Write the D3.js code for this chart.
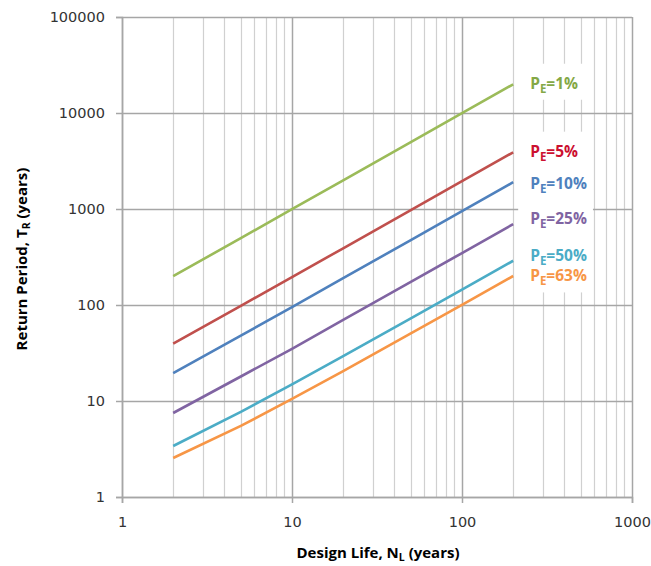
<!DOCTYPE html>
<html>
<head>
<meta charset="utf-8">
<script src="https://cdn.jsdelivr.net/npm/d3@7"></script>
<style>
  body { margin: 0; background: #fff; }
  svg { display: block; }
</style>
</head>
<body>
<div id="chart"></div>
<script>
// design life N (years) where each curve was read
var designLife = [2, 5, 10, 20, 50, 100, 200];

// return period T (years) for each exceedance probability
var pe1  = [199.5, 498, 995, 1990, 4975, 9950, 19900];
var pe5  = [39.5, 98, 195, 390, 975, 1950, 3900];
var pe10 = [19.5, 48, 95, 190, 475, 950, 1900];
var pe25 = [7.5, 18, 35, 70, 174, 348, 696];
var pe50 = [3.4, 7.7, 14.9, 29.4, 72.6, 145, 289];
var pe63 = [2.55, 5.5, 10.5, 20.5, 50.5, 100.5, 200.5];

var seriesNames = ["1%", "5%", "10%", "25%", "50%", "63%"];
var xTicks = [1, 10, 100, 1000];
var yTicks = [1, 10, 100, 1000, 10000, 100000];

function ReturnPeriodChart() {
  var w = 651, h = 566;
  var margin = {top: 17, right: 19, bottom: 69, left: 122};
  var iw = w - margin.left - margin.right;
  var ih = h - margin.top - margin.bottom;

  var lineColors  = ["#9bbb59", "#c0504d", "#4f81bd", "#8064a2", "#4bacc6", "#f79646"];
  var labelColors = ["#84a846", "#cc1030", "#4f81bd", "#8064a2", "#4bacc6", "#f79646"];
  var labelNudge  = [-1, -1, 1, -6, -5, 0];

  var allSeries = [pe1, pe5, pe10, pe25, pe50, pe63];
  var dataset = allSeries.map((vals, i) => ({
    name: seriesNames[i],
    color: lineColors[i],
    labelColor: labelColors[i],
    nudge: labelNudge[i],
    points: vals.map((v, j) => ({n: designLife[j], t: v}))
  }));

  var svg = d3.select("#chart")
    .append("svg")
    .attr("width", w)
    .attr("height", h);

  var g = svg.append("g")
    .attr("transform", "translate(" + margin.left + "," + margin.top + ")");

  var xScale = d3.scaleLog().domain([1, 1000]).range([0, iw]);
  var yScale = d3.scaleLog().domain([1, 100000]).range([ih, 0]);

  var isMajor = (v) => Math.abs(Math.log10(v) - Math.round(Math.log10(v))) < 1e-9;

  // vertical grid (minor + major)
  g.append("g").selectAll("line")
    .data(xScale.ticks())
    .enter()
    .append("line")
    .attr("x1", (d) => Math.round(xScale(d)) + 0.5)
    .attr("x2", (d) => Math.round(xScale(d)) + 0.5)
    .attr("y1", 0)
    .attr("y2", ih)
    .attr("stroke", (d) => isMajor(d) ? "#a6a6a6" : "#d0d0d0")
    .attr("stroke-width", (d) => isMajor(d) ? 1.5 : 1.2);

  // horizontal grid (decades only)
  g.append("g").selectAll("line")
    .data(yTicks)
    .enter()
    .append("line")
    .attr("x1", 0)
    .attr("x2", iw)
    .attr("y1", (d) => Math.round(yScale(d)) + 0.5)
    .attr("y2", (d) => Math.round(yScale(d)) + 0.5)
    .attr("stroke", "#a6a6a6")
    .attr("stroke-width", 1.5);

  // axes
  var xAxis = d3.axisBottom(xScale)
    .tickValues(xTicks)
    .tickFormat(d3.format("d"))
    .tickSize(6)
    .tickPadding(14);
  var yAxis = d3.axisLeft(yScale)
    .tickValues(yTicks)
    .tickFormat(d3.format("d"))
    .tickSize(6)
    .tickPadding(11);

  var gx = g.append("g")
    .attr("transform", "translate(0," + ih + ")")
    .call(xAxis);
  var gy = g.append("g").call(yAxis);

  [gx, gy].forEach((ax) => {
    ax.select(".domain").attr("stroke", "#a6a6a6").attr("stroke-width", 1.5);
    ax.selectAll(".tick line").attr("stroke", "#a6a6a6").attr("stroke-width", 1.5);
    ax.selectAll(".tick text")
      .attr("fill", "#333")
      .style("font-family", "'DejaVu Sans', Verdana, sans-serif")
      .style("font-size", "14.5px");
  });

  // curves
  var line = d3.line()
    .x((d) => xScale(d.n))
    .y((d) => yScale(d.t));

  g.selectAll(".curve")
    .data(dataset)
    .enter()
    .append("path")
    .attr("class", "curve")
    .attr("d", (d) => line(d.points))
    .attr("fill", "none")
    .attr("stroke", (d) => d.color)
    .attr("stroke-width", 2.6);

  // labels with white backing boxes
  var boxLayer = g.append("g");
  var labelLayer = g.append("g");

  var labels = labelLayer.selectAll("text")
    .data(dataset)
    .enter()
    .append("text")
    .attr("x", (d) => xScale(200) + 17)
    .attr("y", (d) => yScale(d.points[d.points.length - 1].t) + d.nudge)
    .attr("dy", "0.35em")
    .attr("fill", (d) => d.labelColor)
    .style("font-family", "'Open Sans', sans-serif")
    .style("font-weight", "bold")
    .style("font-size", "15.5px");
  labels.append("tspan").text("P");
  labels.append("tspan").attr("dy", 4).style("font-size", "11.5px").text("E");
  labels.append("tspan").attr("dy", -4).text((d) => "=" + d.name);

  // one box for 1%, one box for the rest
  var nodes = labels.nodes();
  function unionBox(list) {
    var b = list.map((n) => n.getBBox());
    var x0 = d3.min(b, (r) => r.x), y0 = d3.min(b, (r) => r.y);
    var x1 = d3.max(b, (r) => r.x + r.width), y1 = d3.max(b, (r) => r.y + r.height);
    return {x: x0, y: y0, w: x1 - x0, h: y1 - y0};
  }
  [unionBox([nodes[0]]), unionBox(nodes.slice(1))].forEach((b) => {
    boxLayer.append("rect")
      .attr("x", b.x - 12)
      .attr("y", b.y - 8)
      .attr("width", b.w + 18)
      .attr("height", b.h + 12)
      .attr("fill", "#fff");
  });

  // axis titles
  var xTitle = svg.append("text")
    .attr("x", 378)
    .attr("y", 558)
    .attr("text-anchor", "middle")
    .attr("fill", "#000")
    .style("font-family", "'Open Sans', sans-serif")
    .style("font-weight", "bold")
    .style("font-size", "15px");
  xTitle.append("tspan").text("Design Life, N");
  xTitle.append("tspan").attr("dy", 3).style("font-size", "10.5px").text("L");
  xTitle.append("tspan").attr("dy", -3).text(" (years)");

  var yTitle = svg.append("text")
    .attr("transform", "translate(27,259) rotate(-90)")
    .attr("text-anchor", "middle")
    .attr("fill", "#000")
    .style("font-family", "'Open Sans', sans-serif")
    .style("font-weight", "bold")
    .style("font-size", "15px");
  yTitle.append("tspan").text("Return Period, T");
  yTitle.append("tspan").attr("dy", 3).style("font-size", "10.5px").text("R");
  yTitle.append("tspan").attr("dy", -3).text(" (years)");
}

window.onload = function () {
  ReturnPeriodChart();
};
</script>
</body>
</html>
